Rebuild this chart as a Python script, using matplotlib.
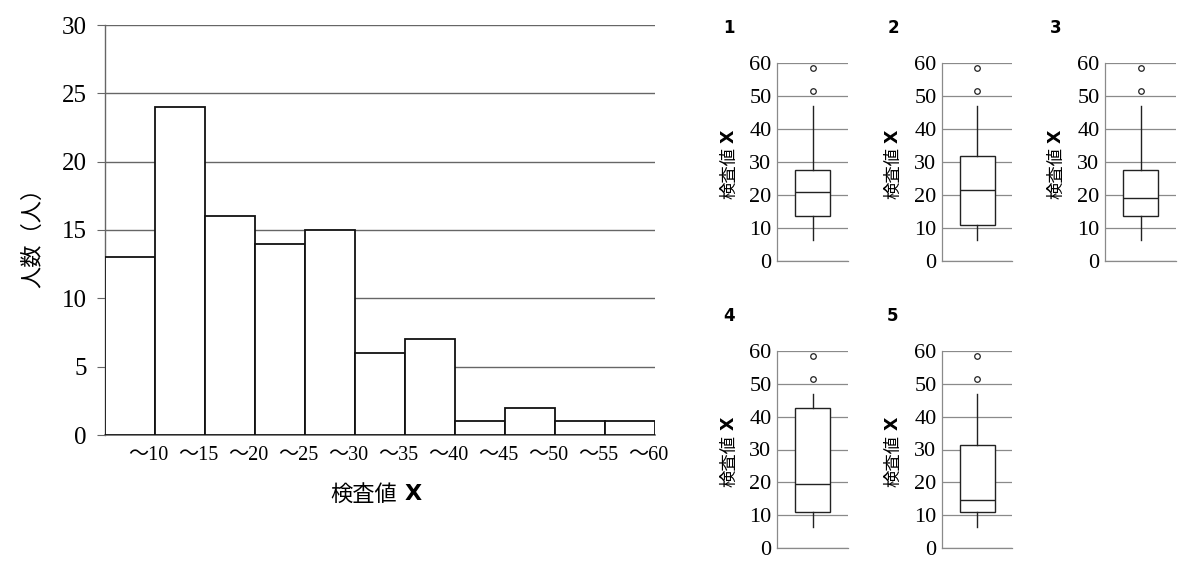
import matplotlib
matplotlib.use("Agg")
import matplotlib.pyplot as plt
import numpy as np

# ---- data ----
hist_labels = ["～10", "～15", "～20", "～25", "～30", "～35", "～40", "～45", "～50", "～55", "～60"]
hist_counts = [13, 24, 16, 14, 15, 6, 7, 1, 2, 1, 1]
hist_yticks = [0, 5, 10, 15, 20, 25, 30]

box_names = ["1", "2", "3", "4", "5"]
box_whislo = [6.5, 6.5, 6.5, 6.5, 6.5]
box_q1 = [13.5, 11.0, 13.5, 11.0, 11.0]
box_med = [21.0, 21.5, 19.0, 19.5, 14.5]
box_q3 = [27.5, 31.8, 27.5, 42.5, 31.3]
box_whishi = [47.0, 47.0, 47.0, 47.0, 47.0]
box_fliers = [[51.5, 58.5], [51.5, 58.5], [51.5, 58.5], [51.5, 58.5], [51.5, 58.5]]
box_yticks = [0, 10, 20, 30, 40, 50, 60]

SERIF = ["Liberation Serif", "Noto Sans CJK JP"]
CJK = ["Noto Sans CJK JP", "DejaVu Sans"]
GRID = "#8a8a8a"

W, H = 1200, 581
fig = plt.figure(figsize=(W / 100, H / 100), dpi=100)


def px_axes(l, t, r, b):
    return fig.add_axes([l / W, 1 - b / H, (r - l) / W, (b - t) / H])


# ---- histogram ----
ax = px_axes(105, 25, 655, 435)
x = np.arange(len(hist_counts))
ax.set_axisbelow(True)
ax.bar(x, hist_counts, width=1.0, color="white", edgecolor="#111111", linewidth=1.3, zorder=3)
ax.set_yticks(hist_yticks)
ax.set_yticklabels([str(v) for v in hist_yticks], family=SERIF, fontsize=18)
ax.yaxis.grid(True, color="#666666", linewidth=1.0)
ax.tick_params(axis="y", length=6, color="#666666", pad=7)
ax.set_xticks(x + 0.36)
ax.set_xticklabels(hist_labels, family=SERIF, fontsize=14.5)
ax.tick_params(axis="x", length=0, pad=8)
ax.set_xlim(-0.5, len(hist_counts) - 0.5)
ax.set_ylim(0, 30)
for s in ["top", "right"]:
    ax.spines[s].set_visible(False)
ax.spines["left"].set_color("#666666")
ax.spines["bottom"].set_color("#666666")
ax.spines["left"].set_linewidth(1.0)
ax.spines["bottom"].set_linewidth(1.2)
fig.text(33 / W, 1 - 232 / H, "人数（人）", family=CJK, fontsize=16, rotation=90,
         ha="center", va="center")
fig.text(364 / W, 1 - 494 / H, "検査値", family=CJK, fontsize=16, ha="center", va="center")
fig.text(405 / W, 1 - 494 / H, "X", family=["DejaVu Sans"], fontsize=16, fontweight="bold",
         ha="left", va="center")

# ---- box plots ----
positions = [
    (777, 63, 848, 261, 729, 28),
    (942, 63, 1012, 261, 893, 28),
    (1105, 63, 1176, 261, 1056, 28),
    (777, 351, 848, 548, 729, 316),
    (942, 351, 1012, 548, 893, 316),
]

for i, (l, t, r, b, lx, ly) in enumerate(positions):
    bx = px_axes(l, t, r, b)
    stats = [{
        "whislo": box_whislo[i], "q1": box_q1[i], "med": box_med[i],
        "q3": box_q3[i], "whishi": box_whishi[i], "fliers": box_fliers[i],
    }]
    bx.set_axisbelow(True)
    bx.bxp(stats, positions=[1], widths=0.5, showcaps=False, patch_artist=True,
           boxprops=dict(facecolor="white", edgecolor="#222222", linewidth=1.0),
           medianprops=dict(color="#222222", linewidth=1.0),
           whiskerprops=dict(color="#222222", linewidth=1.0),
           flierprops=dict(marker="o", markersize=4, markerfacecolor="white",
                           markeredgecolor="#222222", markeredgewidth=0.9))
    bx.set_xticks([])
    bx.set_yticks(box_yticks)
    bx.set_yticklabels([str(v) for v in box_yticks], family=SERIF, fontsize=16)
    bx.tick_params(axis="y", length=0, pad=4)
    bx.set_xlim(0.5, 1.5)
    bx.set_ylim(0, 60)
    bx.yaxis.grid(True, color=GRID, linewidth=0.9)
    for s in ["top", "right"]:
        bx.spines[s].set_visible(False)
    bx.spines["left"].set_color(GRID)
    bx.spines["bottom"].set_color(GRID)
    bx.spines["left"].set_linewidth(0.9)
    bx.spines["bottom"].set_linewidth(0.9)
    fig.text(lx / W, 1 - ly / H, box_names[i], family=["DejaVu Sans"], fontsize=12,
             fontweight="bold", ha="center", va="center")
    cy = (t + b) / 2 + 2
    fig.text(lx / W, 1 - (cy + 9) / H, "検査値", family=CJK, fontsize=12.5, rotation=90,
             ha="center", va="center")
    fig.text(lx / W, 1 - (cy - 28) / H, "X", family=["DejaVu Sans"], fontsize=12.5,
             fontweight="bold", rotation=90, ha="center", va="center")

fig.savefig("out.png", dpi=100, facecolor="white")
